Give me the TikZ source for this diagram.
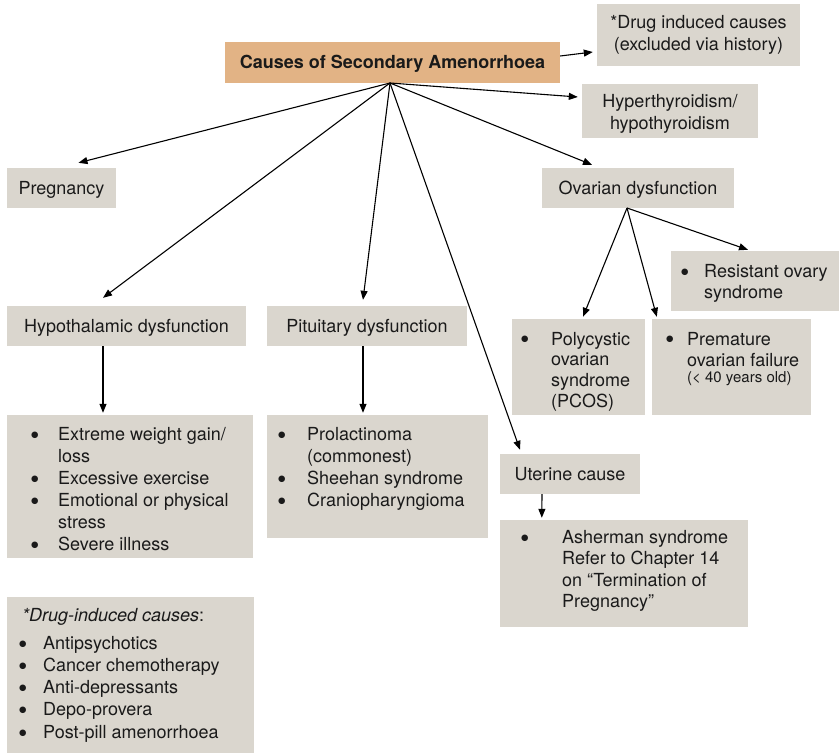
\documentclass[tikz,border=0pt]{standalone}
\usepackage{fontspec}
\setmainfont{TeX Gyre Heros}
\newfontfamily\dotfont{DejaVu Sans}
\usetikzlibrary{arrows.meta}
\definecolor{boxgrey}{HTML}{DAD6CE}
\definecolor{titleorange}{HTML}{E2B385}
\definecolor{ink}{HTML}{1A1A1A}
\newlength\bw
\newcommand\bl{\makebox[\bw][l]{\raisebox{3pt}{\dotfont\fontsize{8.5}{8.5}\selectfont ●}}}
\newcommand\ind{\hspace*{\bw}}

\begin{document}
\begin{tikzpicture}[x=1pt,y=-1pt,
  box/.style={fill=boxgrey, draw=none, inner sep=0pt, text=ink, align=center,
    font=\fontsize{18}{22}\selectfont},
  oneline/.style={box, text height=15pt, text depth=2pt},
  title/.style={oneline, fill=titleorange, font=\bfseries\fontsize{18}{22}\selectfont},
  listtext/.style={anchor=base west, inner sep=0pt, text=ink,
    font=\fontsize{18}{22.2}\selectfont},
  arr/.style={-{Triangle[length=9pt,width=7pt]}, line width=1.1pt, black}]

\path[use as bounding box] (0,0) rectangle (839,754);

% ---- boxes with a single heading ----
\node[title, minimum width=335, minimum height=41] (main) at (392.5,62.5) {Causes of Secondary Amenorrhoea};
\node[box, minimum width=203, minimum height=62] (drug) at (698.5,35) {*Drug induced causes\\(excluded via history)};
\node[box, minimum width=176, minimum height=54] (thy) at (670,111) {\rule{0pt}{18pt}Hyperthyroidism/\\hypothyroidism};
\node[oneline, minimum width=109, minimum height=40] (preg) at (61.5,188) {Pregnancy};
\node[oneline, minimum width=192, minimum height=40] (ova) at (638,188) {Ovarian dysfunction};
\node[oneline, minimum width=239, minimum height=40] (hypo) at (126.5,326) {Hypothalamic dysfunction};
\node[oneline, minimum width=200, minimum height=40] (pit) at (367,326) {Pituitary dysfunction};
\node[oneline, minimum width=140, minimum height=40] (ute) at (570,474) {Uterine cause};

% ---- list boxes ----
\node[box, minimum width=246, minimum height=143] (hyl) at (130,486.5) {};
\node[box, minimum width=221, minimum height=123] (pil) at (377.5,476.5) {};
\node[box, minimum width=168, minimum height=60] (res) at (755,281) {};
\node[box, minimum width=133, minimum height=96] (pol) at (578.5,367) {};
\node[box, minimum width=159, minimum height=96] (pre) at (731.5,367) {};
\node[box, minimum width=248, minimum height=107] (ash) at (624,573.5) {};
\node[box, minimum width=247, minimum height=156] (drl) at (130.5,675) {};

% ---- list contents ----
\node[listtext] (hylt) at (31,440) {\setlength\bw{27pt}\parbox[t]{240pt}{\raggedright
  \bl Extreme weight gain/\\ \ind loss\\ \bl Excessive exercise\\
  \bl Emotional or physical\\ \ind stress\\ \bl Severe illness}};
\node[listtext] (pilt) at (278,440) {\setlength\bw{29pt}\parbox[t]{220pt}{\raggedright
  \bl Prolactinoma\\ \ind (commonest)\\ \bl Sheehan syndrome\\ \bl Craniopharyngioma}};
\node[listtext, font=\fontsize{18}{20.7}\selectfont] (rest) at (681,277.5) {\setlength\bw{23pt}\parbox[t]{170pt}{\raggedright
  \bl Resistant ovary\\ \ind syndrome}};
\node[listtext, font=\fontsize{18}{20.7}\selectfont] (polt) at (521,345) {\setlength\bw{30pt}\parbox[t]{140pt}{\raggedright
  \bl Polycystic\\ \ind ovarian\\ \ind syndrome\\ \ind (PCOS)}};
\node[listtext, font=\fontsize{18}{21.5}\selectfont] (pret) at (666,345) {\setlength\bw{21pt}\parbox[t]{170pt}{\raggedright
  \bl Premature\\ \ind ovarian failure\\[-5pt] \ind {\fontsize{15}{17}\selectfont (< 40 years old)}}};
\node[listtext, font=\fontsize{18}{21.3}\selectfont] (asht) at (521,543.5) {\setlength\bw{41pt}\parbox[t]{240pt}{\raggedright
  \bl Asherman syndrome\\ \ind Refer to Chapter 14\\ \ind on “Termination of\\ \ind Pregnancy”}};
\node[listtext, font=\fontsize{18}{22.3}\selectfont] (drlt) at (19,621) {\setlength\bw{24pt}\parbox[t]{240pt}{\raggedright
  \hspace*{3pt}\textit{*Drug-induced causes}:\\[5.7pt]
  \bl Antipsychotics\\ \bl Cancer chemotherapy\\ \bl Anti-depressants\\
  \bl Depo-provera\\ \bl Post-pill amenorrhoea}};

% ---- connectors ----
\coordinate (hub) at (390,83);
\draw[arr] ([yshift=6.5pt]main.east) -- ([xshift=-4pt,yshift=-17pt]drug.west);
\draw[arr] (hub) -- ([xshift=-4pt,yshift=14pt]thy.west);
\draw[arr] (hub) -- ([xshift=17pt,yshift=5pt]preg.north);
\draw[arr] (hub) -- ([xshift=-46pt,yshift=3pt]ova.north);
\draw[arr] (hub) -- ([xshift=-23.5pt,yshift=8pt]hypo.north);
\draw[arr] (hub) -- ([xshift=-4pt,yshift=6pt]pit.north);
\draw[arr] (hub) -- ([xshift=-50pt,yshift=4pt]ute.north);

\coordinate (ovhub) at (627,208);
\draw[arr] (ovhub) -- ([xshift=4.5pt,yshift=2pt]pol.north);
\draw[arr] (ovhub) -- ([xshift=5pt,yshift=2pt]pre.north west);
\draw[arr] (ovhub) -- ([xshift=-7pt,yshift=1pt]res.north);

\draw[arr] ([xshift=-23.5pt]hypo.south) -- ([xshift=-27pt,yshift=2pt]hyl.north);
\draw[arr] ([xshift=-4pt]pit.south) -- ([xshift=-14.5pt,yshift=2pt]pil.north);
\draw[arr] ([xshift=-28pt]ute.south) -- ([xshift=42pt,yshift=2pt]ash.north west);
\end{tikzpicture}
\end{document}
